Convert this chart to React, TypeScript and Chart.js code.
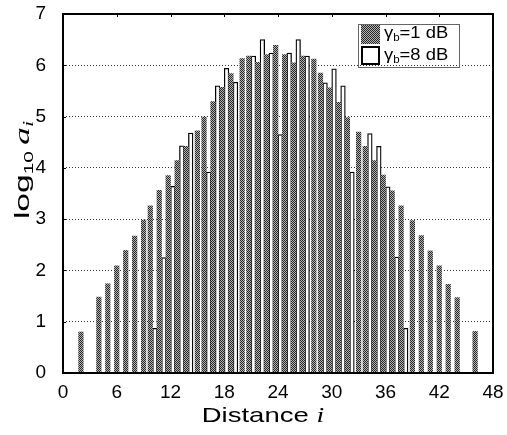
import React, { useEffect, useRef } from 'react';
import { Chart, registerables } from 'chart.js';

Chart.register(...registerables);

// Distance i (x categories)
const distance = [
  2, 3, 4, 5, 6, 7, 8, 9, 10, 11, 12, 13, 14, 15, 16, 17, 18, 19, 20, 21, 22, 23, 24,
  25, 26, 27, 28, 29, 30, 31, 32, 33, 34, 35, 36, 37, 38, 39, 40, 41, 42, 43, 44, 45, 46,
];

// log10 a_i for gamma_b = 1 dB
const gammaB1 = [
  0.8, null, 1.48, 1.74, 2.09, 2.39, 2.67, 2.98, 3.26, 3.56, 3.85, 4.14, 4.42, 4.72, 4.99, 5.29,
  5.57, 5.84, 6.13, 6.18, 6.06, 6.21, 6.39, 6.21, 6.05, 6.18, 6.12, 5.85, 5.56, 5.28, 4.98, 4.7,
  4.42, 4.14, 3.86, 3.55, 3.26, 2.97, 2.68, 2.38, 2.09, 1.73, 1.47, null, 0.81,
];

// log10 a_i for gamma_b = 8 dB
const gammaB8 = [
  null, null, null, null, null, null, null, null,
  0.87, 2.25, 3.64, 4.43, 4.68, null, 3.92, 5.6, 5.94, 5.67, null, 6.18, 6.5, 6.24, 4.65,
  6.24, 6.5, 6.18, null, 5.66, 5.93, 5.6, 3.92, null, 4.67, 4.42, 3.63, 2.26, 0.87,
  null, null, null, null, null, null, null, null,
];

const xTickValues = [0, 6, 12, 18, 24, 30, 36, 42, 48];
const yTickValues = [0, 1, 2, 3, 4, 5, 6, 7];
const legendValues = ['1', '8'];

const SANS = "'Liberation Sans', Arial, Helvetica, sans-serif";
const SERIF = "'Liberation Serif', 'Times New Roman', serif";

type Seg = { text: string; font: string; dy?: number; gap?: number };

function drawRich(
  ctx: CanvasRenderingContext2D,
  x: number,
  y: number,
  segs: Seg[],
  sx: number,
  angle: number,
  align: 'center' | 'left'
) {
  ctx.save();
  ctx.translate(x, y);
  ctx.rotate(angle);
  ctx.scale(sx, 1);
  ctx.textBaseline = 'alphabetic';
  ctx.textAlign = 'left';
  ctx.fillStyle = '#000';
  let total = 0;
  for (const s of segs) {
    ctx.font = s.font;
    total += ctx.measureText(s.text).width + (s.gap || 0);
  }
  let cx = align === 'center' ? -total / 2 : 0;
  for (const s of segs) {
    ctx.font = s.font;
    ctx.fillText(s.text, cx, s.dy || 0);
    cx += ctx.measureText(s.text).width + (s.gap || 0);
  }
  ctx.restore();
}

function makePattern(): CanvasPattern | string {
  const c = document.createElement('canvas');
  c.width = 2;
  c.height = 2;
  const g = c.getContext('2d');
  if (!g) return '#808080';
  g.fillStyle = '#b4b4b4';
  g.fillRect(0, 0, 2, 2);
  g.fillStyle = '#262626';
  g.fillRect(0, 0, 1, 1);
  g.fillRect(1, 1, 1, 1);
  const ctx = document.createElement('canvas').getContext('2d');
  const p = ctx ? ctx.createPattern(c, 'repeat') : null;
  return p || '#808080';
}

export default function App() {
  const ref = useRef<HTMLCanvasElement | null>(null);

  useEffect(() => {
    const canvas = ref.current;
    if (!canvas) return;
    const pattern = makePattern();

    const decorations = {
      id: 'decorations',
      afterDatasetsDraw(chart: any) {
        const { ctx, chartArea } = chart;
        const { left, right, top, bottom } = chartArea;
        ctx.save();
        ctx.strokeStyle = '#000';
        ctx.lineWidth = 2;
        ctx.strokeRect(left, top, right - left, bottom - top);
        ctx.lineWidth = 1;
        const xs = chart.scales.x;
        xTickValues.slice(1, -1).forEach((v) => {
          const px = Math.round(xs.getPixelForValue(v)) + 0.5;
          ctx.beginPath();
          ctx.moveTo(px, top);
          ctx.lineTo(px, top + 3);
          ctx.stroke();
        });
        const ys = chart.scales.y;
        yTickValues.slice(1, -1).forEach((v) => {
          const py = Math.round(ys.getPixelForValue(v)) + 0.5;
          ctx.beginPath();
          ctx.moveTo(left, py);
          ctx.lineTo(left + 3, py);
          ctx.stroke();
        });
        ctx.restore();
      },
      afterDraw(chart: any) {
        const { ctx } = chart;
        // y axis title: log10 a_i
        drawRich(
          ctx,
          29,
          170,
          [
            { text: 'log', font: `21px ${SANS}` },
            { text: '10', font: `13px ${SANS}`, dy: 4, gap: 4 },
            { text: 'a', font: `italic 22px ${SERIF}` },
            { text: 'i', font: `italic 14px ${SERIF}`, dy: 4 },
          ],
          1.6,
          -Math.PI / 2,
          'center'
        );
        // x axis title: Distance i
        drawRich(
          ctx,
          263,
          422,
          [
            { text: 'Distance', font: `21px ${SANS}`, gap: 6 },
            { text: 'i', font: `italic 21px ${SERIF}` },
          ],
          1.31,
          0,
          'center'
        );
        // legend
        ctx.save();
        ctx.strokeStyle = '#666';
        ctx.lineWidth = 1;
        ctx.strokeRect(358.5, 24.5, 101, 43);
        ctx.fillStyle = pattern as any;
        ctx.fillRect(361, 25, 19, 19);
        ctx.fillStyle = '#fff';
        ctx.fillRect(362, 47, 17, 17);
        ctx.strokeStyle = '#000';
        ctx.lineWidth = 2;
        ctx.strokeRect(362, 47, 17, 17);
        ctx.restore();
        legendValues.forEach((v, k) => {
          drawRich(
            ctx,
            384,
            38 + k * 22,
            [
              { text: 'γ', font: `16px ${SANS}` },
              { text: 'b', font: `10px ${SANS}`, dy: 3 },
              { text: `=${v} dB`, font: `16px ${SANS}` },
            ],
            1.15,
            0,
            'left'
          );
        });
      },
    };

    const chart = new Chart(canvas, {
      type: 'bar',
      data: {
        datasets: [
          {
            label: 'γb=1 dB',
            data: distance.map((d, k) => ({ x: d, y: gammaB1[k] })) as any,
            backgroundColor: pattern as any,
            borderWidth: 0,
          },
          {
            label: 'γb=8 dB',
            data: distance.map((d, k) => ({ x: d, y: gammaB8[k] })) as any,
            backgroundColor: '#ffffff',
            borderColor: '#000000',
            borderWidth: 1.3,
          },
        ],
      },
      options: {
        responsive: false,
        animation: false,
        events: [],
        layout: { padding: 0 },
        datasets: {
          bar: { grouped: true, skipNull: true, barThickness: 4.6 } as any,
        },
        plugins: {
          legend: { display: false },
          tooltip: { enabled: false },
        },
        scales: {
          x: {
            type: 'linear',
            min: 0,
            max: 48,
            offset: false,
            afterBuildTicks: (s: any) => {
              s.ticks = xTickValues.map((v) => ({ value: v }));
            },
            afterFit: (s: any) => {
              s.height = 62;
              s.paddingLeft = 0;
              s.paddingRight = 14;
            },
            grid: { display: false, drawTicks: false },
            border: { display: false },
            ticks: {
              color: '#000',
              padding: 8,
              maxRotation: 0,
              autoSkip: false,
              font: { family: SANS, size: 19 },
            },
          },
          y: {
            type: 'linear',
            min: 0,
            max: 7,
            afterBuildTicks: (s: any) => {
              s.ticks = yTickValues.map((v) => ({ value: v }));
            },
            afterFit: (s: any) => {
              s.width = 63;
              s.paddingTop = 14;
              s.paddingBottom = 0;
            },
            grid: {
              drawTicks: false,
              lineWidth: 1,
              color: (c: any) =>
                c.tick && c.tick.value > 0 && c.tick.value < 7 ? '#333' : 'rgba(0,0,0,0)',
            },
            border: { display: false, dash: [1, 2] },
            ticks: {
              color: '#000',
              padding: 17,
              font: { family: SANS, size: 19 },
            },
          },
        },
      },
      plugins: [decorations],
    });

    return () => {
      chart.destroy();
    };
  }, []);

  return (
    <div
      style={{
        position: 'fixed',
        left: 0,
        top: 0,
        width: 507,
        height: 435,
        background: '#fff',
      }}
    >
      <canvas ref={ref} width={507} height={435} style={{ display: 'block', width: 507, height: 435 }} />
    </div>
  );
}
